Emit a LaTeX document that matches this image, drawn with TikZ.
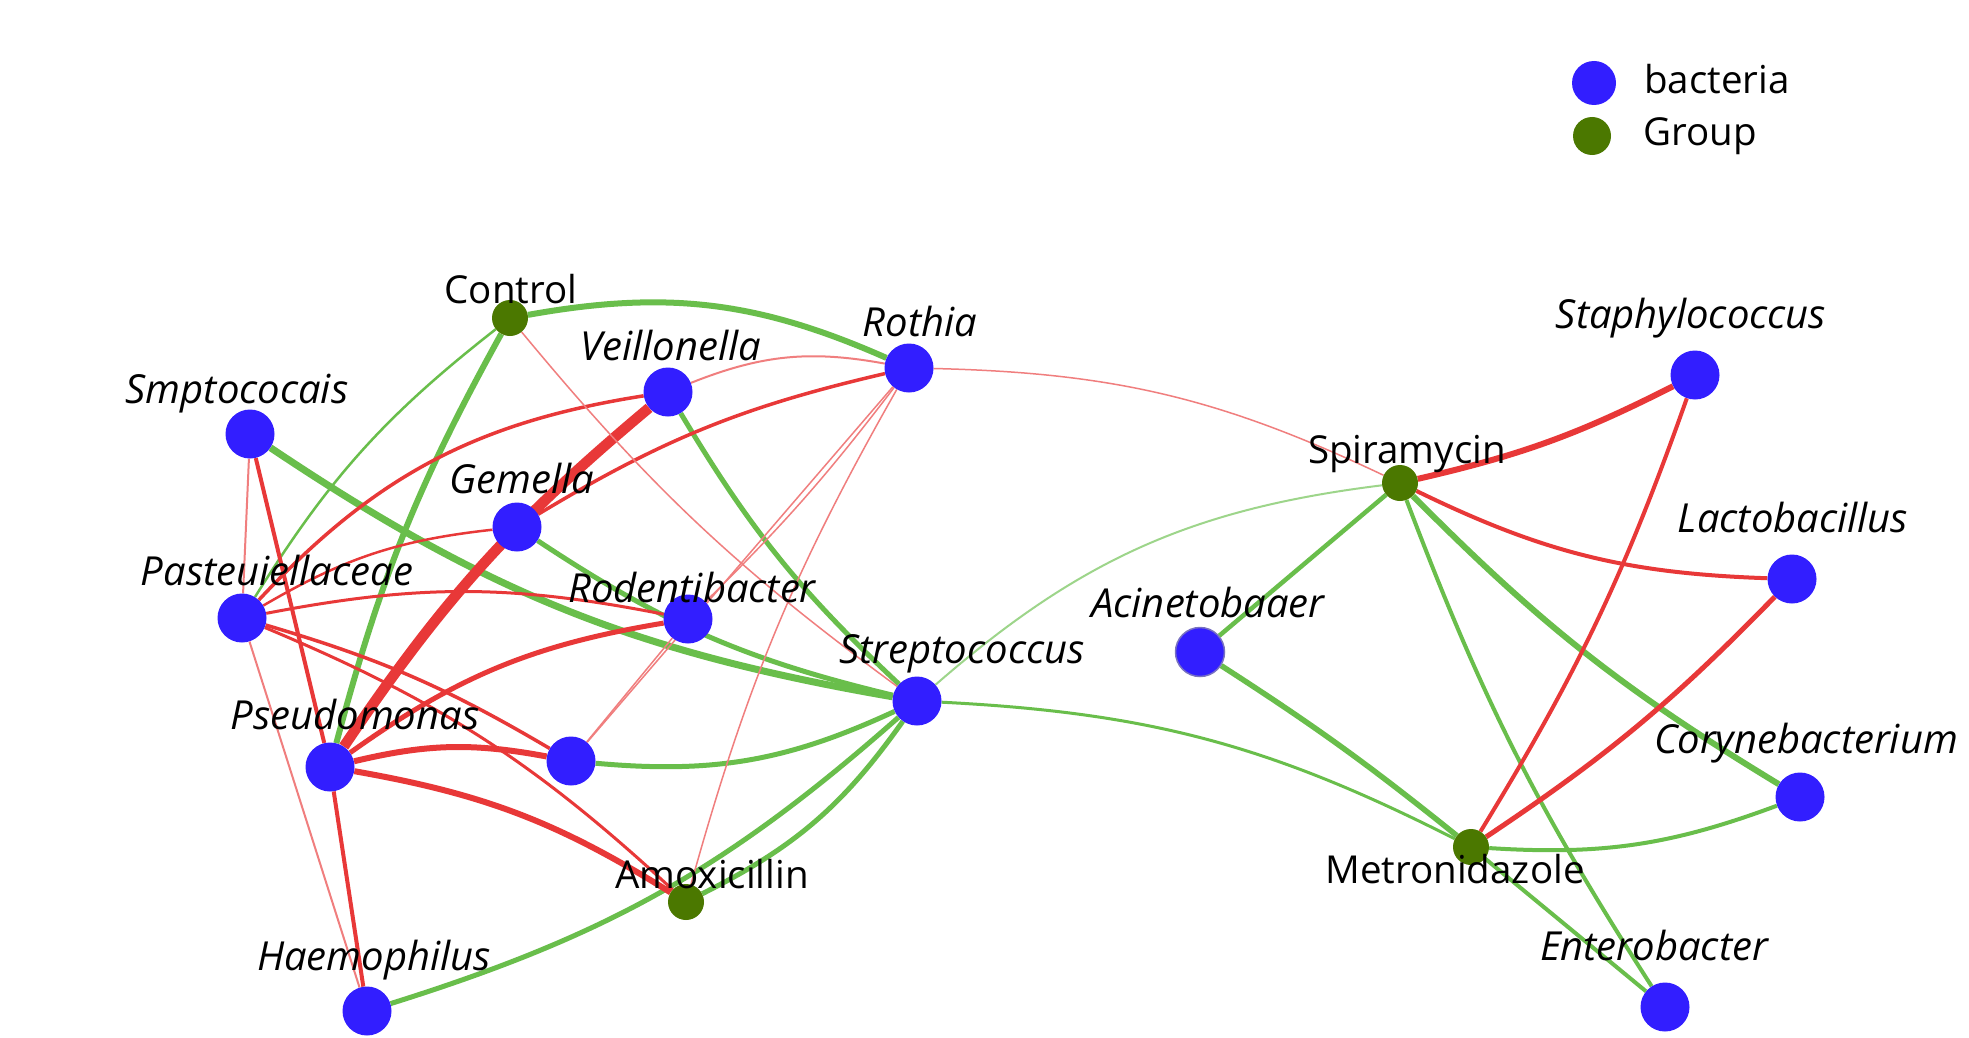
\documentclass[tikz,border=0pt]{standalone}
\usepackage{fontspec}
\setmainfont{Open Sans}
\definecolor{redE}{RGB}{232,56,56}
\definecolor{grnE}{RGB}{105,190,75}
\definecolor{blueN}{RGB}{50,30,255}
\definecolor{grnN}{RGB}{75,120,0}
\pgfdeclarelayer{edges}
\pgfsetlayers{edges,main}
\begin{document}
\begin{tikzpicture}[x=1pt,y=-1pt,
  bact/.style={circle,fill=blueN,minimum size=49pt,inner sep=0pt},
  grp/.style={circle,fill=grnN,minimum size=36pt,inner sep=0pt},
  lab/.style={anchor=base,font=\fontsize{38.5}{42}\selectfont,inner sep=0pt},
  ilab/.style={anchor=base,font=\fontsize{40}{42}\selectfont\itshape,inner sep=0pt},
  re/.style={draw=redE,line width=#1},
  ge/.style={draw=grnE,line width=#1},
  thinre/.style={draw=redE!65,line width=#1},
  thinge/.style={draw=grnE!65,line width=#1}]
\useasboundingbox (0,0) rectangle (1969,1038);
% nodes
\node[grp]  (ctrl)   at (510,318) {};
\node[bact] (veil)   at (668,392) {};
\node[bact] (roth)   at (909,368) {};
\node[bact] (smpt)   at (250,434) {};
\node[bact] (gem)    at (517,527) {};
\node[bact] (past)   at (242,618) {};
\node[bact] (rod)    at (688,619) {};
\node[bact] (strep)  at (917,701) {};
\node[bact] (pseu)   at (330,767) {};
\node[bact] (unk)    at (571,761) {};
\node[grp]  (amox)   at (686,902) {};
\node[bact] (haem)   at (367,1011) {};
\node[grp]  (spir)   at (1400,483) {};
\node[bact] (staph)  at (1695,375) {};
\node[bact] (lacto)  at (1792,579) {};
\node[bact,draw=blueN!60!black!60,line width=1.5pt] (acin) at (1200,652) {};
\node[bact] (cory)   at (1800,797) {};
\node[grp]  (metro)  at (1471,847) {};
\node[bact] (entero) at (1665,1007) {};
% labels
\node[lab]  (lctrl)   at (511,303)  {Control};
\node[ilab] (lveil)   at (671,360)  {Veillonella};
\node[ilab] (lroth)   at (920,336)  {Rothia};
\node[ilab] (lsmpt)   at (237,403)  {Smptococais};
\node[ilab] (lgem)    at (522,493)  {Gemella};
\node[ilab] (lpast)   at (277,585)  {Pasteuiellaceae};
\node[ilab] (lrod)    at (692,602)  {Rodentibacter};
\node[ilab] (lstrep)  at (962,663)  {Streptococcus};
\node[ilab] (lpseu)   at (355,729)  {Pseudomonas};
\node[lab]  (lamox)   at (712,888)  {Amoxicillin};
\node[ilab] (lhaem)   at (374,970)  {Haemophilus};
\node[lab]  (lspir)   at (1407,463) {Spiramycin};
\node[ilab] (lstaph)  at (1691,328) {Staphylococcus};
\node[ilab] (llacto)  at (1793,532) {Lactobacillus};
\node[ilab] (lacin)   at (1208,617) {Acinetobaaer};
\node[ilab] (lcory)   at (1806,753) {Corynebacterium};
\node[lab]  (lmetro)  at (1455,883) {Metronidazole};
\node[ilab] (lentero) at (1654,960) {Enterobacter};
% legend
\node[circle,fill=blueN,minimum size=44pt,inner sep=0pt] (legb) at (1594,83) {};
\node[circle,fill=grnN,minimum size=38pt,inner sep=0pt] (legg) at (1592,136) {};
\node[lab,anchor=base west] (legbt) at (1644,94) {bacteria};
\node[lab,anchor=base west] (leggt) at (1643,145) {Group};
% edges
\begin{pgfonlayer}{edges}
\fill[white] (0,0) rectangle (1969,1038);
% green
\draw[ge=6] (ctrl) to[bend left=17] (roth);
\draw[ge=6] (ctrl) to[bend right=7] (pseu);
\draw[ge=2.5] (ctrl) to[bend right=10] (past);
\draw[ge=7] (smpt) to[bend right=12] (strep);
\draw[ge=5] (gem) to[bend right=10] (strep);
\draw[ge=5] (veil) to[bend right=8] (strep);
\draw[ge=5] (strep) to[bend left=15] (unk);
\draw[ge=5] (strep) to[bend left=14] (amox);
\draw[ge=5] (strep) to[bend left=12] (haem);
\draw[thinge=2] (strep) to[bend left=17] (spir);
\draw[ge=3] (strep) to[bend left=12] (metro);
\draw[ge=4.5] (spir) -- (acin);
\draw[ge=4] (spir) to[bend right=6] (entero);
\draw[ge=6] (spir) to[bend right=7] (cory);
\draw[ge=5.5] (metro) to[bend right=3] (acin);
\draw[ge=4] (metro) to[bend right=12] (cory);
\draw[ge=4] (metro) -- (entero);
% red
\draw[re=10.5] (veil) to[bend right=8] (pseu);
\draw[re=3.5] (veil) to[bend right=19] (past);
\draw[thinre=2] (veil) to[bend left=16] (roth);
\draw[re=3.5] (roth) to[bend right=9] (gem);
\draw[thinre=1.5] (roth) to[bend left=4] (rod);
\draw[thinre=1.5] (roth) -- (unk);
\draw[thinre=1.5] (roth) to[bend right=7] (amox);
\draw[thinre=1.5] (roth) to[bend left=12] (spir);
\draw[thinre=1.5] (ctrl) to[bend right=7] (strep);
\draw[re=2.5] (past) to[bend left=12] (gem);
\draw[re=3] (past) to[bend left=11] (rod);
\draw[re=3.5] (past) to[bend left=7] (unk);
\draw[re=3] (past) to[bend left=10] (amox);
\draw[thinre=2] (past) -- (haem);
\draw[thinre=2] (smpt) -- (past);
\draw[re=4] (smpt) -- (pseu);
\draw[re=5] (pseu) to[bend left=13] (rod);
\draw[re=6] (pseu) to[bend left=12] (unk);
\draw[re=6] (pseu) to[bend left=11] (amox);
\draw[re=4] (pseu) -- (haem);
\draw[thinre=1.5] (rod) -- (unk);
\draw[re=6] (spir) to[bend right=7] (staph);
\draw[re=4] (spir) to[bend right=12] (lacto);
\draw[re=4] (metro) to[bend right=6] (staph);
\draw[re=5] (metro) to[bend right=6] (lacto);
\end{pgfonlayer}
\end{tikzpicture}
\end{document}
